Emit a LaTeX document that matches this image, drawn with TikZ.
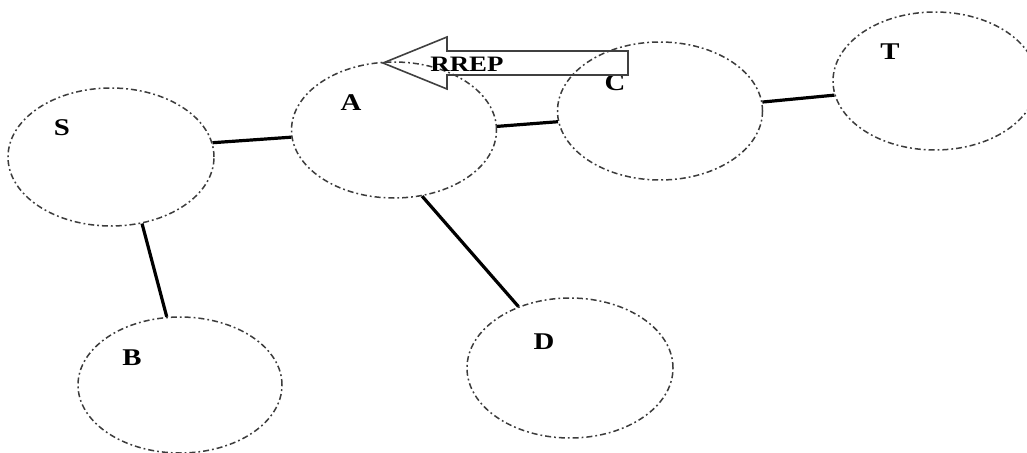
\documentclass[tikz,border=0pt]{standalone}
\usepackage{fontspec}
\setmainfont{Liberation Serif}
\usetikzlibrary{shapes.geometric}
\definecolor{ringgray}{RGB}{60,60,60}
\tikzset{
  cell/.style={ellipse, draw=ringgray, line width=1.5pt,
    dash pattern=on 6pt off 3pt on 1.8pt off 3pt, inner sep=0pt},
  link/.style={line width=3.2pt, black},
  lbl/.style={inner sep=0pt, font=\fontsize{24}{28}\selectfont\bfseries},
  msg/.style={draw=black!75, line width=1.6pt, line join=miter}
}
\newcommand{\wide}[1]{\scalebox{1.2}[1]{#1}}
\begin{document}
\begin{tikzpicture}[x=1pt, y=-1pt]
  \clip (0,0) rectangle (1027,452);
  \fill[white] (0,0) rectangle (1027,452);

  % radio ranges of the nodes
  \node[cell, minimum width=206pt, minimum height=138pt] (S) at (111,157) {};
  \node[cell, minimum width=205pt, minimum height=136pt] (A) at (394,130) {};
  \node[cell, minimum width=205pt, minimum height=138pt] (C) at (660,111) {};
  \node[cell, minimum width=204pt, minimum height=138pt] (T) at (935,81) {};
  \node[cell, minimum width=204pt, minimum height=136pt] (B) at (180,385) {};
  \node[cell, minimum width=206pt, minimum height=140pt] (D) at (570,368) {};

  % node names
  \node[lbl] (Sl) at (62,128) {\wide{S}};
  \node[lbl] (Al) at (351,103) {\wide{A}};
  \node[lbl] (Cl) at (615,83) {\wide{C}};
  \node[lbl] (Tl) at (890,52) {\wide{T}};
  \node[lbl] (Bl) at (132,358) {\wide{B}};
  \node[lbl] (Dl) at (544,342) {\wide{D}};

  % links between neighbours
  \draw[link] (S.8) -- (A.184);
  \draw[link] (A.2) -- (C.186);
  \draw[link] (C.5.5) -- (T.188);
  \draw[link] (S.-65) -- (B.101);
  \draw[link] (A.-67.5) -- (D.130);

  % route reply travelling from C back towards A
  \coordinate (tip) at (383,63);
  \draw[msg] (tip) -- (447,37) -- (447,51) -- (628,51) -- (628,75)
    -- (447,75) -- (447,89) -- cycle;
  \node[inner sep=0pt, font=\fontsize{22}{26}\selectfont\bfseries] (rrep) at (467,64) {\scalebox{1.22}[1]{RREP}};
\end{tikzpicture}
\end{document}
